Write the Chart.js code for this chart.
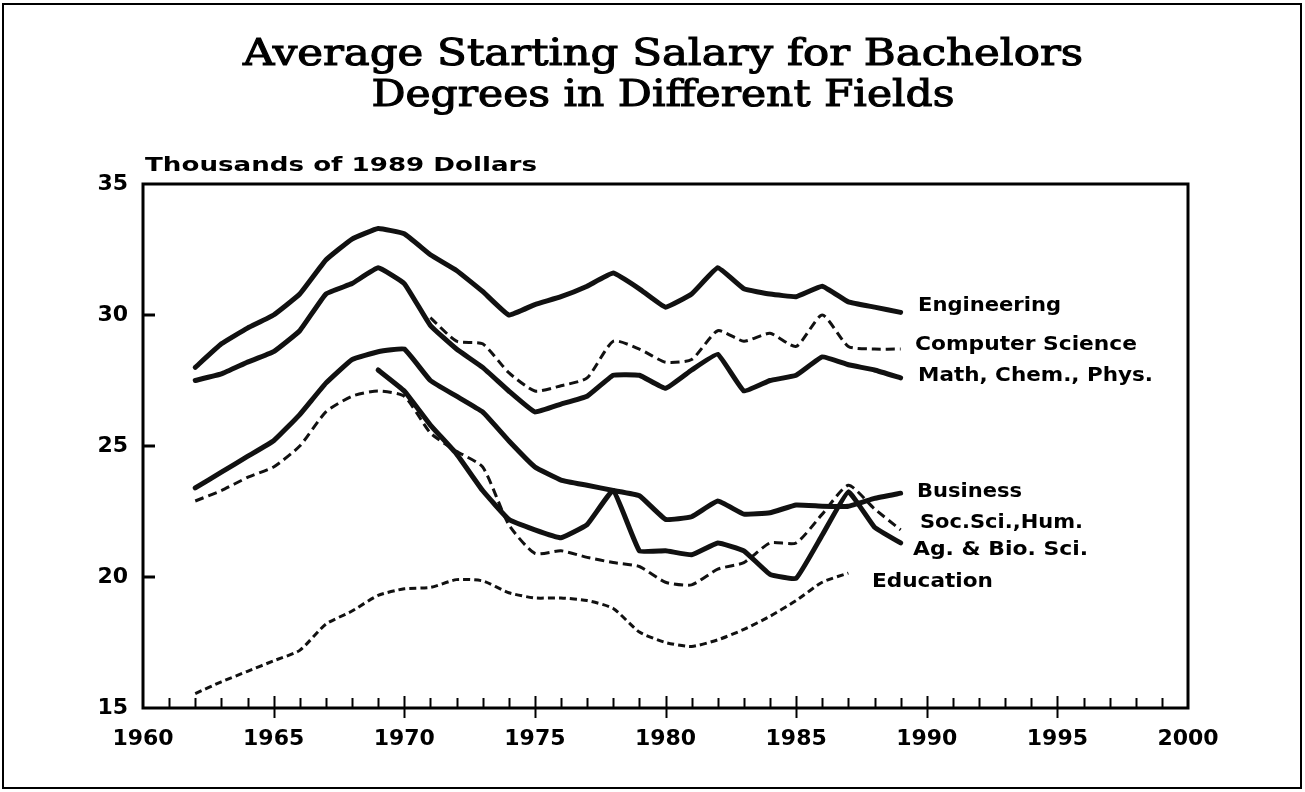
<!DOCTYPE html>
<html>
<head>
<meta charset="utf-8">
<title>Average Starting Salary for Bachelors Degrees</title>
<script src="https://cdn.jsdelivr.net/npm/chart.js@4.4.0/dist/chart.umd.min.js"></script>
<style>
  html, body { margin: 0; padding: 0; background: #fff; }
</style>
</head>
<body>
<canvas id="salary-chart" width="1305" height="792"></canvas>
<script>
// Data: thousands of 1989 dollars, one value per year (null = no data)
const years = [1962, 1963, 1964, 1965, 1966, 1967, 1968, 1969, 1970, 1971,
               1972, 1973, 1974, 1975, 1976, 1977, 1978, 1979, 1980, 1981,
               1982, 1983, 1984, 1985, 1986, 1987, 1988, 1989];

const engineering = [28.0, 28.9, 29.5, 30.0, 30.8, 32.1, 32.9, 33.3, 33.1, 32.3,
                     31.7, 30.9, 30.0, 30.4, 30.7, 31.1, 31.6, 31.0, 30.3, 30.8,
                     31.8, 31.0, 30.8, 30.7, 31.1, 30.5, 30.3, 30.1];
const computerScience = [null, null, null, null, null, null, null, null, null, 29.9,
                         29.0, 28.9, 27.8, 27.1, 27.3, 27.6, 29.0, 28.7, 28.2, 28.3,
                         29.4, 29.0, 29.3, 28.8, 30.0, 28.8, 28.7, 28.7];
const mathChemPhys = [27.5, 27.75, 28.2, 28.6, 29.4, 30.8, 31.2, 31.8, 31.2, 29.6,
                      28.7, 28.0, 27.1, 26.3, 26.6, 26.9, 27.7, 27.7, 27.2, 27.9,
                      28.5, 27.1, 27.5, 27.7, 28.4, 28.1, 27.9, 27.6];
const business = [23.4, 24.0, 24.6, 25.2, 26.2, 27.4, 28.3, 28.6, 28.7, 27.5,
                  26.9, 26.3, 25.2, 24.2, 23.7, 23.5, 23.3, 23.1, 22.2, 22.3,
                  22.9, 22.4, 22.45, 22.75, 22.7, 22.7, 23.0, 23.2];
const socSciHum = [22.9, 23.3, 23.8, 24.2, 25.0, 26.3, 26.9, 27.1, 26.9, 25.5,
                   24.8, 24.2, 22.0, 20.9, 21.0, 20.75, 20.55, 20.4, 19.8, 19.7,
                   20.3, 20.55, 21.3, 21.3, 22.4, 23.5, 22.6, 21.8];
const agBioSci = [null, null, null, null, null, null, null, 27.9, 27.1, 25.8,
                  24.7, 23.3, 22.2, 21.8, 21.5, 22.0, 23.3, 21.0, 21.0, 20.85,
                  21.3, 21.0, 20.1, 19.95, 21.6, 23.25, 21.9, 21.3];
const education = [15.55, 16.0, 16.4, 16.8, 17.2, 18.2, 18.7, 19.3, 19.55, 19.6,
                   19.9, 19.85, 19.4, 19.2, 19.2, 19.1, 18.8, 17.9, 17.5, 17.35,
                   17.6, 18.0, 18.5, 19.1, 19.8, 20.15, null, null];

const yTicks = [15, 20, 25, 30, 35];
const xTicks = [1960, 1965, 1970, 1975, 1980, 1985, 1990, 1995, 2000];

// Series names as printed next to the lines: [text, left x, baseline y, width]
const seriesLabels = [
  ['Engineering', 918, 311, 143],
  ['Computer Science', 915, 350, 222],
  ['Math, Chem., Phys.', 918, 381, 235],
  ['Business', 917, 497, 105],
  ['Soc.Sci.,Hum.', 920, 528, 163],
  ['Ag. & Bio. Sci.', 913, 555, 175],
  ['Education', 872, 587, 121]
];

function toPoints(values) {
  return years.map((yr, i) => ({ x: yr, y: values[i] })).filter(p => p.y !== null);
}

function solid(values) {
  return { data: toPoints(values), borderColor: '#111', borderWidth: 5, tension: 0.1,
           pointRadius: 0, borderCapStyle: 'round', borderJoinStyle: 'round' };
}

function dashed(values, dash) {
  return { data: toPoints(values), borderColor: '#111', borderWidth: 3, tension: 0.2,
           pointRadius: 0, borderDash: dash, borderCapStyle: 'butt' };
}

// Draw text squeezed or stretched to a given width
function drawFitted(ctx, text, x, y, width, centered, outline) {
  const natural = ctx.measureText(text).width;
  ctx.save();
  ctx.translate(x, y);
  ctx.scale(width / natural, 1);
  ctx.textAlign = 'left';
  const left = centered ? -natural / 2 : 0;
  ctx.fillText(text, left, 0);
  if (outline) {
    ctx.lineWidth = outline;
    ctx.strokeText(text, left, 0);
  }
  ctx.restore();
}

const framePlugin = {
  id: 'frame',
  afterDraw(chart) {
    const { ctx, chartArea: a, scales } = chart;
    ctx.save();
    ctx.strokeStyle = '#000';
    ctx.fillStyle = '#000';
    ctx.lineCap = 'butt';

    // plot box
    ctx.lineWidth = 3;
    ctx.strokeRect(a.left, a.top, a.right - a.left, a.bottom - a.top);

    // x ticks: every year inside, major every five years crossing the axis
    ctx.lineWidth = 2;
    for (let yr = 1961; yr < 2000; yr++) {
      const px = Math.round(scales.x.getPixelForValue(yr)) + 0.5;
      const major = yr % 5 === 0;
      ctx.beginPath();
      ctx.moveTo(px, a.bottom + (major ? 10 : 0));
      ctx.lineTo(px, a.bottom - (major ? 12 : 10));
      ctx.stroke();
    }
    // y ticks
    ctx.lineWidth = 3;
    yTicks.slice(1, -1).forEach(v => {
      const py = Math.round(scales.y.getPixelForValue(v));
      ctx.beginPath();
      ctx.moveTo(a.left, py);
      ctx.lineTo(a.left + 12, py);
      ctx.stroke();
    });

    // title
    ctx.textBaseline = 'alphabetic';
    ctx.font = '37px "DejaVu Serif"';
    drawFitted(ctx, 'Average Starting Salary for Bachelors', 663, 65, 840, true, 1.1);
    drawFitted(ctx, 'Degrees in Different Fields', 663, 106, 583, true, 1.1);

    // unit label
    ctx.font = 'bold 20px "DejaVu Sans"';
    drawFitted(ctx, 'Thousands of 1989 Dollars', 145, 171, 392, false);

    // series labels
    ctx.font = 'bold 19px "DejaVu Sans"';
    seriesLabels.forEach(([text, x, y, w]) => drawFitted(ctx, text, x, y, w, false));

    // outer border
    ctx.lineWidth = 2;
    ctx.strokeRect(3, 4, 1298, 784);
    ctx.restore();
  }
};

const tickFont = { family: 'DejaVu Sans', weight: 'bold', size: 22 };

const chart = new Chart(document.getElementById('salary-chart'), {
  type: 'line',
  data: {
    datasets: [
      solid(engineering),
      dashed(computerScience, [9, 5]),
      solid(mathChemPhys),
      solid(business),
      dashed(socSciHum, [9, 5]),
      solid(agBioSci),
      dashed(education, [7, 4])
    ]
  },
  options: {
    responsive: false,
    devicePixelRatio: 1,
    animation: false,
    layout: { padding: { left: 93, right: 117, top: 184, bottom: 24 } },
    plugins: { legend: { display: false }, tooltip: { enabled: false } },
    scales: {
      x: {
        type: 'linear', min: 1960, max: 2000,
        afterFit(scale) { scale.height = 60; },
        afterBuildTicks(scale) { scale.ticks = xTicks.map(v => ({ value: v })); },
        ticks: { font: tickFont, color: '#000', padding: 18, callback: v => String(v) },
        grid: { display: false, drawTicks: false },
        border: { display: false }
      },
      y: {
        min: 15, max: 35,
        afterFit(scale) { scale.width = 50; },
        afterBuildTicks(scale) { scale.ticks = yTicks.map(v => ({ value: v })); },
        ticks: { font: tickFont, color: '#000', padding: 15 },
        grid: { display: false, drawTicks: false },
        border: { display: false }
      }
    }
  },
  plugins: [framePlugin]
});
</script>
</body>
</html>
